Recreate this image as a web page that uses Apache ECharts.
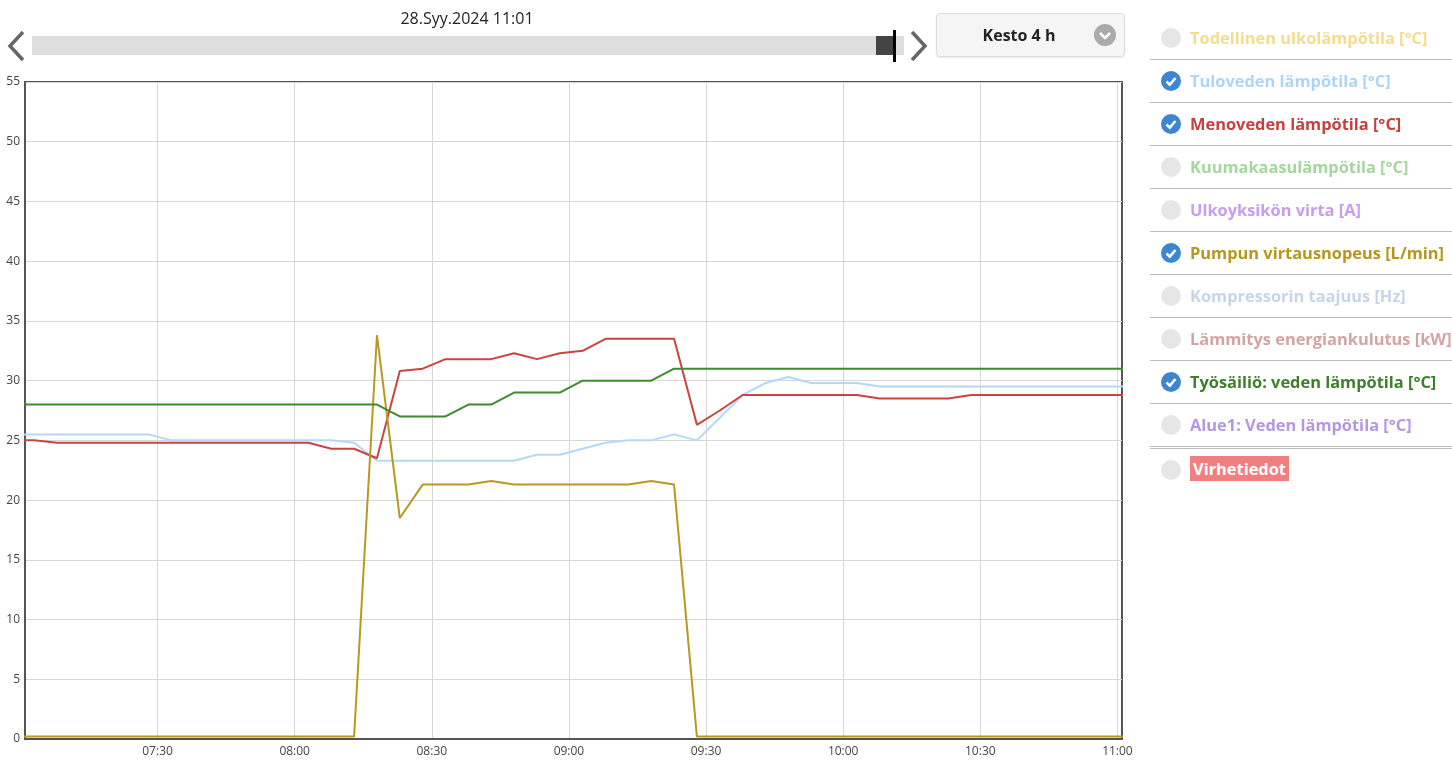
<!DOCTYPE html>
<html>
<head>
<meta charset="utf-8">
<script src="https://cdn.jsdelivr.net/npm/echarts@6/dist/echarts.min.js"></script>
<style>
  html, body { margin: 0; padding: 0; background: #fff; font-family: 'Open Sans', 'Noto Sans', sans-serif; }
  #chart { position: absolute; left: 0; top: 0; width: 1452px; height: 762px; }
  .abs { position: absolute; }
  #date { left: 367px; top: 7px; width: 200px; text-align: center; font-size: 16px; color: #222; }
  #track { left: 32px; top: 36px; width: 872px; height: 19px; background: #dedede; }
  #thumb { left: 876px; top: 36px; width: 18px; height: 19px; background: #444; }
  #cursor { left: 893px; top: 30px; width: 3px; height: 32px; background: #000; }
  #kesto { left: 936px; top: 13px; width: 187px; height: 42px; background: #f5f5f5; border: 1px solid #ddd; border-radius: 4px; box-shadow: 0 1px 2px rgba(0,0,0,0.08); }
  #kesto span { position: absolute; left: 0; width: 164px; top: 10px; text-align: center; font-weight: bold; font-size: 16px; color: #222; }
  #legend { left: 1150px; top: 17px; width: 302px; }
  .row { position: relative; height: 42px; border-bottom: 1px solid #bbb; }
  .row.dbl { border-bottom: 3px double #bbb; height: 42px; }
  .row .c { position: absolute; left: 11px; top: 11px; width: 20px; height: 20px; border-radius: 50%; background: #e6e6e6; }
  .row .c.on { background: #3b86cf; }
  .row .t { position: absolute; left: 40px; top: 9px; font-weight: bold; font-size: 16.4px; white-space: nowrap; }
  .vir { background: #f27f7f; color: #fff; padding: 1px 3px; }
</style>
</head>
<body>
<div id="chart"></div>

<div id="date" class="abs">28.Syy.2024 11:01</div>
<svg class="abs" style="left:0;top:0" width="940" height="70">
  <polyline points="23,32 10,46 23,60" fill="none" stroke="#666" stroke-width="3.5"/>
  <polyline points="912,32 925,46 912,60" fill="none" stroke="#666" stroke-width="3.5"/>
</svg>
<div id="track" class="abs"></div>
<div id="thumb" class="abs"></div>
<div id="cursor" class="abs"></div>
<div id="kesto" class="abs"><span>Kesto 4 h</span>
  <svg style="position:absolute;left:156px;top:9px" width="24" height="24">
    <circle cx="12" cy="12" r="11" fill="#aaa"/>
    <polyline points="7,10 12,15 17,10" fill="none" stroke="#fff" stroke-width="2.5"/>
  </svg>
</div>

<div id="legend" class="abs"></div>

<script>
// ---- data ----
const times = ['06:58','07:03','07:08','07:13','07:18','07:23','07:28','07:33','07:38','07:43',
  '07:48','07:53','07:58','08:03','08:08','08:13','08:18','08:23','08:28','08:33',
  '08:38','08:43','08:48','08:53','08:58','09:03','09:08','09:13','09:18','09:23',
  '09:28','09:33','09:38','09:43','09:48','09:53','09:58','10:03','10:08','10:13',
  '10:18','10:23','10:28','10:33','10:38','10:43','10:48','10:53','10:58','11:03'];

const tuloveden = [25.5,25.5,25.5,25.5,25.5,25.5,25.5,25.0,25.0,25.0,
  25.0,25.0,25.0,25.0,25.0,24.8,23.3,23.3,23.3,23.3,
  23.3,23.3,23.3,23.8,23.8,24.3,24.8,25.0,25.0,25.5,
  25.0,26.9,28.8,29.8,30.3,29.8,29.8,29.8,29.5,29.5,
  29.5,29.5,29.5,29.5,29.5,29.5,29.5,29.5,29.5,29.5];

const menoveden = [25.0,25.0,24.8,24.8,24.8,24.8,24.8,24.8,24.8,24.8,
  24.8,24.8,24.8,24.8,24.3,24.3,23.5,30.8,31.0,31.8,
  31.8,31.8,32.3,31.8,32.3,32.5,33.5,33.5,33.5,33.5,
  26.3,27.5,28.8,28.8,28.8,28.8,28.8,28.8,28.5,28.5,
  28.5,28.5,28.8,28.8,28.8,28.8,28.8,28.8,28.8,28.8];

const pumpun = [0.2,0.2,0.2,0.2,0.2,0.2,0.2,0.2,0.2,0.2,
  0.2,0.2,0.2,0.2,0.2,0.2,33.8,18.5,21.3,21.3,
  21.3,21.6,21.3,21.3,21.3,21.3,21.3,21.3,21.6,21.3,
  0.2,0.2,0.2,0.2,0.2,0.2,0.2,0.2,0.2,0.2,
  0.2,0.2,0.2,0.2,0.2,0.2,0.2,0.2,0.2,0.2];

const tyosailio = [28.0,28.0,28.0,28.0,28.0,28.0,28.0,28.0,28.0,28.0,
  28.0,28.0,28.0,28.0,28.0,28.0,28.0,27.0,27.0,27.0,
  28.0,28.0,29.0,29.0,29.0,30.0,30.0,30.0,30.0,31.0,
  31.0,31.0,31.0,31.0,31.0,31.0,31.0,31.0,31.0,31.0,
  31.0,31.0,31.0,31.0,31.0,31.0,31.0,31.0,31.0,31.0];

const axisStart = '07:01';
const axisEnd = '11:01';
const xTickLabels = ['07:30','08:00','08:30','09:00','09:30','10:00','10:30','11:00'];
const yTicks = [0,5,10,15,20,25,30,35,40,45,50,55];

const legendItems = [
  ['Todellinen ulkolämpötila [°C]', '#f3dc8e', false],
  ['Tuloveden lämpötila [°C]', '#acd4f5', true],
  ['Menoveden lämpötila [°C]', '#c83f3d', true],
  ['Kuumakaasulämpötila [°C]', '#a5d69e', false],
  ['Ulkoyksikön virta [A]', '#c89cf2', false],
  ['Pumpun virtausnopeus [L/min]', '#b8961c', true],
  ['Kompressorin taajuus [Hz]', '#c6d5e5', false],
  ['Lämmitys energiankulutus [kW]', '#d4a3a3', false],
  ['Työsäiliö: veden lämpötila [°C]', '#3d7f2b', true],
  ['Alue1: Veden lämpötila [°C]', '#b795e3', false]
];

// ---- legend (HTML) ----
const check = '<svg width="20" height="20" style="position:absolute;left:0;top:0"><polyline points="5.5,10.5 8.8,13.6 14.5,7" fill="none" stroke="#fff" stroke-width="2.6"/></svg>';
let html = '';
legendItems.forEach((it, i) => {
  const cls = i === legendItems.length - 1 ? 'row dbl' : 'row';
  html += '<div class="' + cls + '"><div class="c' + (it[2] ? ' on' : '') + '">' + (it[2] ? check : '') +
    '</div><div class="t" style="color:' + it[1] + '">' + it[0] + '</div></div>';
});
html += '<div class="row" style="border:none"><div class="c"></div><div class="t" style="top:8px"><span class="vir">Virhetiedot</span></div></div>';
document.getElementById('legend').innerHTML = html;

// ---- chart ----
function ts(hm) { const p = hm.split(':'); return new Date(2024, 0, 28, +p[0], +p[1], 0).getTime(); }
function pairs(arr) { return times.map((t, i) => [ts(t), arr[i]]); }
function pad(n) { return (n < 10 ? '0' : '') + n; }
const tickVals = xTickLabels.map(ts);

const chart = echarts.init(document.getElementById('chart'));
const mk = (name, data, color, w) => ({
  name, type: 'line', data: pairs(data), showSymbol: false, symbol: 'none',
  lineStyle: { color, width: w }, itemStyle: { color }, animation: false, clip: true
});
chart.setOption({
  animation: false,
  grid: { left: 25, right: 330, top: 82, bottom: 23, show: true, borderColor: '#555', borderWidth: 2 },
  xAxis: {
    type: 'value', min: ts(axisStart), max: ts(axisEnd),
    axisLine: { show: true, lineStyle: { color: '#555', width: 2 } },
    axisTick: { show: false, customValues: tickVals },
    splitLine: { show: true, lineStyle: { color: '#d6d6d6', width: 1 } },
    axisLabel: {
      customValues: tickVals,
      formatter: function (v) { const d = new Date(v); return pad(d.getHours()) + ':' + pad(d.getMinutes()); },
      color: '#444', fontSize: 12, margin: 7, fontFamily: 'Open Sans'
    }
  },
  yAxis: {
    type: 'value', min: yTicks[0], max: yTicks[yTicks.length - 1], interval: 5,
    axisLine: { show: true, lineStyle: { color: '#555', width: 2 } },
    axisTick: { show: false },
    splitLine: { show: true, lineStyle: { color: '#d6d6d6', width: 1 } },
    axisLabel: { color: '#444', fontSize: 12, margin: 5, fontFamily: 'Open Sans' }
  },
  series: [
    mk('Tuloveden lämpötila [°C]', tuloveden, '#b4d8f6', 2),
    mk('Menoveden lämpötila [°C]', menoveden, '#c94441', 2),
    mk('Pumpun virtausnopeus [L/min]', pumpun, '#b9981f', 2),
    mk('Työsäiliö: veden lämpötila [°C]', tyosailio, '#3f8a2e', 2)
  ]
});
</script>
</body>
</html>
